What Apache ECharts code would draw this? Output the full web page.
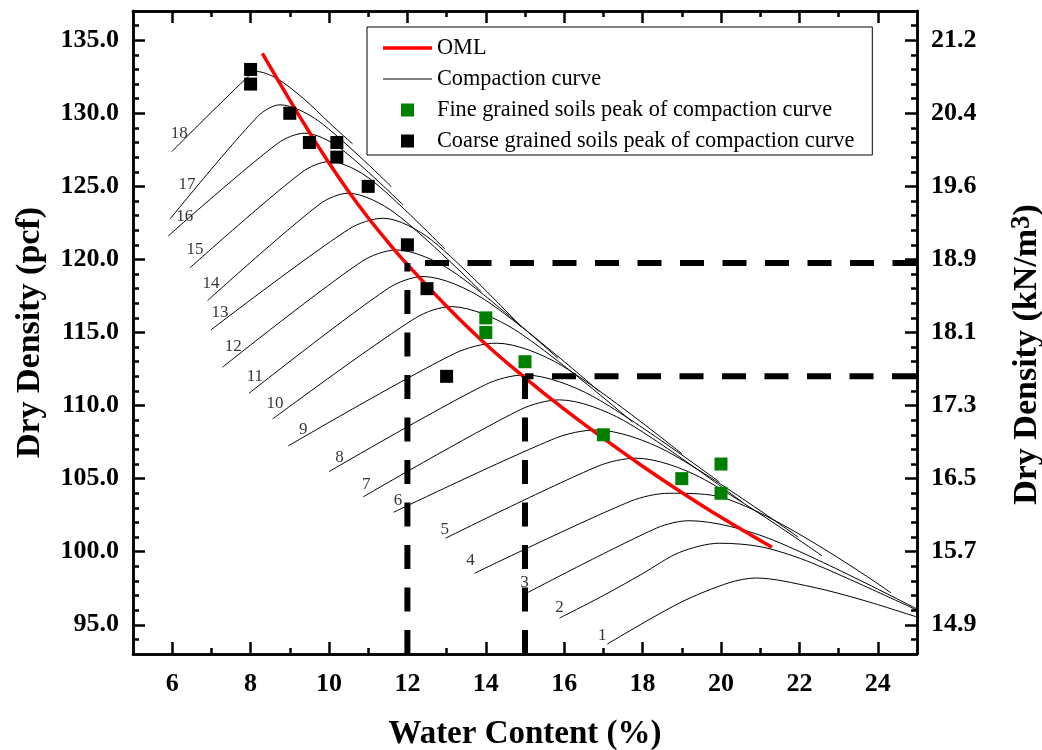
<!DOCTYPE html>
<html><head><meta charset="utf-8">
<script src="https://cdn.jsdelivr.net/npm/echarts@6/dist/echarts.min.js"></script>
<style>html,body{margin:0;padding:0;background:#fff;overflow:hidden}#chart{width:1042px;height:750px}</style>
</head><body><div id="chart"></div>
<script>
// ---------- data ----------
const xTickValues = [6, 8, 10, 12, 14, 16, 18, 20, 22, 24];
const xMinorTicks = [7, 9, 11, 13, 15, 17, 19, 21, 23];
const yTickValues = [95, 100, 105, 110, 115, 120, 125, 130, 135];
const yTickLabels = ['95.0', '100.0', '105.0', '110.0', '115.0', '120.0', '125.0', '130.0', '135.0'];
const yRightLabels = ['14.9', '15.7', '16.5', '17.3', '18.1', '18.9', '19.6', '20.4', '21.2'];
const yMinorTicks = [94, 96, 97, 98, 99, 101, 102, 103, 104, 106, 107, 108, 109, 111, 112, 113, 114, 116, 117, 118, 119, 121, 122, 123, 124, 126, 127, 128, 129, 131, 132, 133, 134, 136];

const c1 = [[17.10, 93.68], [18.94, 96.49], [20.21, 97.88], [20.90, 98.20], [22.32, 97.59], [23.60, 96.70], [25.00, 95.53]];
const c2 = [[15.88, 95.46], [17.00, 97.00], [18.00, 98.50], [18.94, 99.95], [19.96, 100.58], [21.05, 100.32], [22.32, 99.23], [25.00, 96.00]];
const c3 = [[15.03, 97.15], [18.36, 101.62], [19.19, 102.12], [21.22, 100.91], [25.00, 96.08]];
const c4 = [[13.71, 98.52], [17.69, 103.45], [18.68, 104.00], [19.88, 103.81], [24.34, 97.18]];
const c5 = [[12.97, 100.92], [16.86, 105.85], [17.83, 106.40], [19.49, 105.06], [22.58, 99.71]];
const c6 = [[11.65, 102.70], [15.78, 107.77], [16.81, 108.33], [18.62, 106.87], [21.97, 101.00]];
const c7 = [[10.87, 103.75], [14.88, 109.72], [15.88, 110.39], [17.51, 108.99], [20.54, 103.40]];
const c8 = [[10.00, 105.48], [13.99, 111.43], [14.99, 112.10], [16.73, 110.63], [19.96, 104.77]];
const c9 = [[8.96, 107.24], [13.20, 113.56], [14.27, 114.27], [15.93, 112.75], [19.01, 106.69]];
const c10 = [[8.56, 109.08], [12.21, 116.00], [13.12, 116.77], [14.74, 115.19], [17.74, 108.88]];
const c11 = [[7.96, 110.84], [11.51, 118.02], [12.40, 118.83], [13.97, 117.25], [16.90, 110.95]];
const c12 = [[7.28, 112.62], [10.83, 119.85], [11.72, 120.65], [13.16, 119.17], [15.84, 113.24]];
const c13 = [[6.99, 115.18], [10.50, 122.06], [11.38, 122.82], [12.61, 121.34], [14.90, 115.40]];
const c14 = [[6.90, 117.18], [9.77, 123.80], [10.49, 124.53], [11.68, 123.18], [13.88, 117.80]];
const c15 = [[6.45, 119.42], [9.31, 125.97], [10.02, 126.70], [11.05, 125.50], [12.95, 120.72]];
const c16 = [[5.90, 121.61], [8.69, 127.94], [9.38, 128.64], [10.26, 127.66], [11.89, 123.73]];
const c17 = [[5.94, 122.75], [8.18, 129.78], [8.75, 130.58], [9.74, 129.46], [11.59, 124.98]];
const c18 = [[5.99, 127.38], [7.85, 132.29], [8.15, 132.86], [8.66, 132.40], [9.34, 131.03], [10.02, 129.32], [10.60, 127.91]];

const omlCurve = [[8.3, 134.1], [9.0, 130.9], [9.5, 128.7], [10.0, 126.6], [10.5, 124.65], [11.0, 122.85], [11.5, 121.2], [12.0, 119.65], [13.0, 116.8], [14.0, 114.2], [15.0, 111.9], [16.0, 109.75], [17.0, 107.75], [18.0, 105.85], [19.0, 104.05], [20.0, 102.35], [21.3, 100.3]];

const fineX = [14, 14, 15, 17, 19, 20, 20];
const fineY = [116, 115, 113, 108, 105, 106, 104];
const coarseX = [8, 8, 9, 9.5, 10.2, 10.2, 11, 12, 12.5, 13];
const coarseY = [133, 132, 130, 128, 128, 127, 125, 121, 118, 112];

const curveLabelText = ['1', '2', '3', '4', '5', '6', '7', '8', '9', '10', '11', '12', '13', '14', '15', '16', '17', '18'];
const curveLabelX = [16.97, 15.88, 14.99, 13.61, 12.95, 11.76, 10.95, 10.27, 9.34, 8.62, 8.11, 7.56, 7.22, 6.99, 6.58, 6.32, 6.38, 6.18];
const curveLabelY = [94.23, 96.15, 97.86, 99.43, 101.49, 103.49, 104.57, 106.46, 108.33, 110.16, 111.98, 114.03, 116.39, 118.33, 120.65, 122.93, 125.10, 128.64];

const guideX = [12, 15];
const guideY = [119.75, 112.0];
const xRange = [5, 25];
const yRange = [93, 137];

const legendNames = ['OML', 'Compaction curve', 'Fine grained soils peak of compaction curve', 'Coarse grained soils peak of compaction curve'];

// ---------- chart ----------
const SERIF = 'Liberation Serif';
const chart = echarts.init(document.getElementById('chart'), null, {renderer: 'canvas'});
const curves = [c1, c2, c3, c4, c5, c6, c7, c8, c9, c10, c11, c12, c13, c14, c15, c16, c17, c18];

const series = [];
curves.forEach(c => series.push({
  name: legendNames[1], type: 'line', data: c, smooth: 0.3, symbol: 'none',
  lineStyle: {color: '#000', width: 1}, itemStyle: {color: '#000'}, z: 2, silent: true
}));
series.push({
  type: 'scatter', name: 'curveLabels', silent: true, z: 2,
  data: curveLabelText.map((t, i) => [curveLabelX[i], curveLabelY[i], t]),
  symbolSize: 1, itemStyle: {color: 'rgba(0,0,0,0)'},
  label: {show: true, position: 'inside', formatter: p => p.data[2], fontFamily: SERIF, fontSize: 17, color: '#000'}
});
series.push({
  name: legendNames[0], type: 'line', data: omlCurve, smooth: 0.4, symbol: 'none',
  lineStyle: {color: '#ff0000', width: 3.5}, itemStyle: {color: '#ff0000'}, z: 3
});
const dashStyle = (offset) => ({color: '#000', width: 6, type: [24, 18.5], dashOffset: offset, cap: 'butt'});
series.push({type: 'line', name: 'g1', data: [[guideX[0], yRange[0]], [guideX[0], guideY[0]]], symbol: 'none', lineStyle: dashStyle(0), z: 4, silent: true});
series.push({type: 'line', name: 'g2', data: [[guideX[0], guideY[0]], [xRange[1], guideY[0]]], symbol: 'none', lineStyle: dashStyle(24.9), z: 4, silent: true});
series.push({type: 'line', name: 'g3', data: [[guideX[1], yRange[0]], [guideX[1], guideY[1]]], symbol: 'none', lineStyle: dashStyle(0), z: 4, silent: true});
series.push({type: 'line', name: 'g4', data: [[guideX[1], guideY[1]], [xRange[1], guideY[1]]], symbol: 'none', lineStyle: dashStyle(15.5), z: 4, silent: true});
series.push({
  name: legendNames[2], type: 'scatter', symbol: 'rect', symbolSize: 13,
  data: fineX.map((x, i) => [x, fineY[i]]), itemStyle: {color: '#008000', opacity: 1}, z: 5
});
series.push({
  name: legendNames[3], type: 'scatter', symbol: 'rect', symbolSize: 13,
  data: coarseX.map((x, i) => [x, coarseY[i]]), itemStyle: {color: '#000', opacity: 1}, z: 5
});

const axisLine = {show: true, onZero: false, lineStyle: {color: '#000', width: 2.5}};
const boldLabel = {fontFamily: SERIF, fontWeight: 'bold', fontSize: 26, color: '#000'};

function xAx(pos, vals, len, labels, extra) {
  return Object.assign({
    type: 'value', position: pos, min: xRange[0], max: xRange[1], gridIndex: 0,
    axisLine: axisLine, splitLine: {show: false},
    axisTick: {show: true, inside: true, length: len, customValues: vals, lineStyle: {color: '#000', width: 2.5}},
    axisLabel: labels ? Object.assign({show: true, customValues: vals, margin: 17}, boldLabel) : {show: false}
  }, extra || {});
}
function yAx(pos, vals, len, labels, fmt, extra) {
  return Object.assign({
    type: 'value', position: pos, min: yRange[0], max: yRange[1], gridIndex: 0,
    axisLine: axisLine, splitLine: {show: false},
    axisTick: {show: true, inside: true, length: len, customValues: vals, lineStyle: {color: '#000', width: 2.5}},
    axisLabel: labels ? Object.assign({show: true, customValues: vals, margin: 14, formatter: fmt}, boldLabel) : {show: false}
  }, extra || {});
}

const option = {
  animation: false,
  backgroundColor: '#fff',
  grid: {left: 133, right: 125, top: 11, bottom: 96, containLabel: false, outerBoundsMode: 'none'},
  legend: {
    data: [
      {name: legendNames[0], icon: 'path://M0,0h49v3.5h-49z', itemStyle: {color: '#ff0000', borderWidth: 0}},
      {name: legendNames[1], icon: 'path://M0,0h49v1h-49z', itemStyle: {color: '#000', borderWidth: 0}},
      {name: legendNames[2], icon: 'path://M0,0h13v13h-13z', itemStyle: {color: '#008000', borderWidth: 0}},
      {name: legendNames[3], icon: 'path://M0,0h13v13h-13z', itemStyle: {color: '#000', borderWidth: 0}}
    ],
    orient: 'vertical', left: 367, top: 27, itemWidth: 49, itemHeight: 13, itemGap: 9,
    padding: [10, 18, 3, 16], borderColor: '#000', borderWidth: 1, backgroundColor: '#fff',
    textStyle: {fontFamily: SERIF, fontSize: 22.3, color: '#000', lineHeight: 22},
    selectedMode: false
  },
  xAxis: [
    xAx('bottom', xTickValues, 12, true, {
      name: 'Water Content (%)', nameLocation: 'middle', nameGap: 64,
      nameTextStyle: {fontFamily: SERIF, fontWeight: 'bold', fontSize: 33, color: '#000'}
    }),
    xAx('bottom', xMinorTicks, 6, false),
    xAx('top', xTickValues, 12, false),
    xAx('top', xMinorTicks, 6, false)
  ],
  yAxis: [
    yAx('left', yTickValues, 12, true, v => yTickLabels[yTickValues.indexOf(v)], {
      name: 'Dry Density (pcf)', nameLocation: 'middle', nameGap: 86, nameRotate: 90,
      nameTextStyle: {fontFamily: SERIF, fontWeight: 'bold', fontSize: 34, color: '#000'}
    }),
    yAx('left', yMinorTicks, 6, false),
    yAx('right', yTickValues, 12, true, v => yRightLabels[yTickValues.indexOf(v)], {
      name: 'Dry Density (kN/m{sup|3})', nameLocation: 'middle', nameGap: 92, nameRotate: 90,
      nameTextStyle: {fontFamily: SERIF, fontWeight: 'bold', fontSize: 34, color: '#000', padding: [0, 44, 0, 0],
        rich: {sup: {fontFamily: SERIF, fontWeight: 'bold', fontSize: 27, color: '#000', verticalAlign: 'top', lineHeight: 36}}}
    }),
    yAx('right', yMinorTicks, 6, false)
  ],
  series: series
};
chart.setOption(option);
</script>
</body></html>
